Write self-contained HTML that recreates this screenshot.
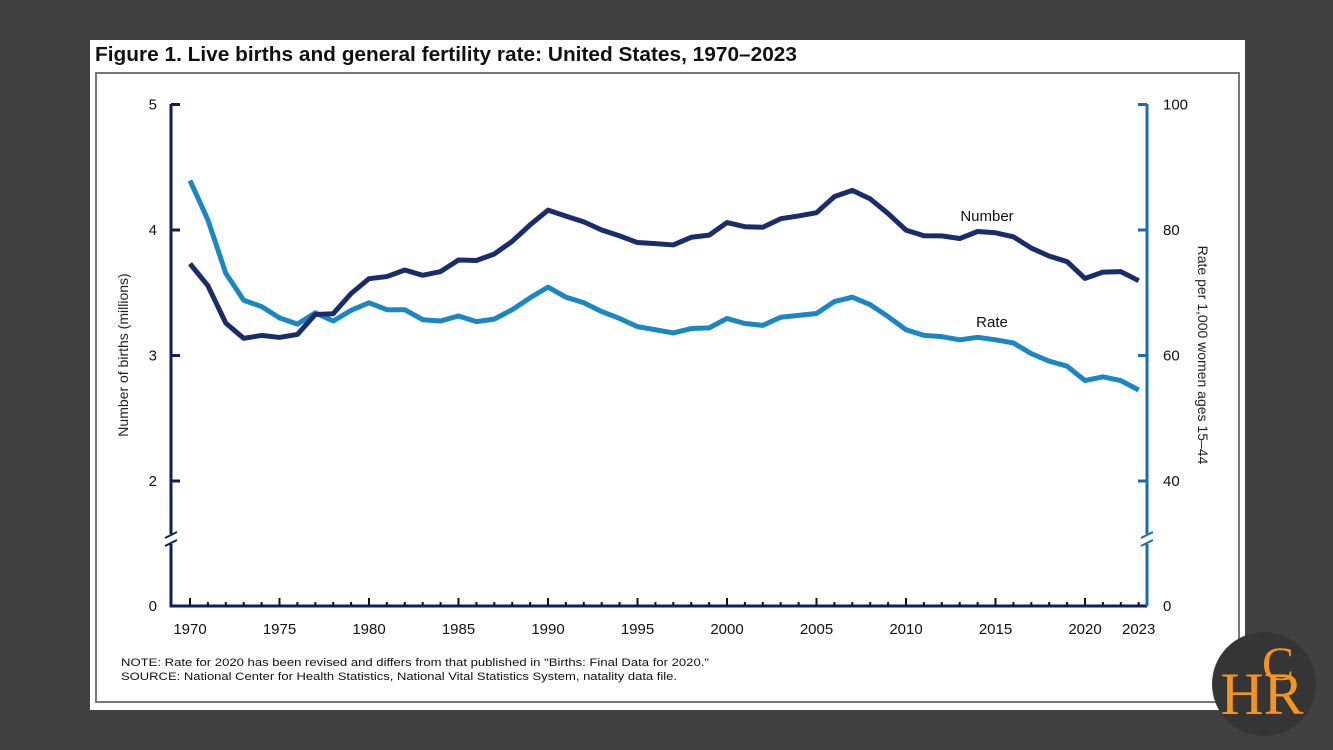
<!DOCTYPE html>
<html><head><meta charset="utf-8"><style>
html,body{margin:0;padding:0;background:#404040;width:1333px;height:750px;overflow:hidden}
svg{display:block}
text{font-family:"Liberation Sans",Arial,sans-serif}
text.serif{font-family:"Liberation Serif",serif}
</style></head><body>
<svg id="c" width="1333" height="750">
<rect x="0" y="0" width="1333" height="750" fill="#404040"/>
<rect x="90" y="40" width="1155" height="670" fill="#ffffff"/>
<rect x="96" y="73" width="1143" height="629" fill="none" stroke="#777" stroke-width="2"/>
<text x="95" y="61" font-size="20" font-weight="bold" fill="#111" textLength="702" lengthAdjust="spacingAndGlyphs">Figure 1. Live births and general fertility rate: United States, 1970–2023</text>
<g id="axes"></g>
<g id="series"></g>
<text x="128" y="355" font-size="14" fill="#222" text-anchor="middle" transform="rotate(-90 128 355)">Number of births (millions)</text>
<text x="1198" y="355" font-size="14" fill="#222" text-anchor="middle" transform="rotate(90 1198 355)">Rate per 1,000 women ages 15–44</text>
<text x="987" y="221" font-size="15" fill="#111" text-anchor="middle">Number</text>
<text x="992" y="327" font-size="15" fill="#111" text-anchor="middle">Rate</text>
<text x="121" y="666" font-size="11" fill="#111" textLength="588" lengthAdjust="spacingAndGlyphs">NOTE: Rate for 2020 has been revised and differs from that published in "Births: Final Data for 2020."</text>
<text x="121" y="680" font-size="11" fill="#111" textLength="556" lengthAdjust="spacingAndGlyphs">SOURCE: National Center for Health Statistics, National Vital Statistics System, natality data file.</text>
<g>
<circle cx="1264" cy="684" r="52" fill="#353535"/>
<text class="serif" x="1262" y="714" font-size="60" fill="#f7941d" text-anchor="middle">HR</text>
<text class="serif" x="1278" y="680" font-size="48" fill="#f7941d" text-anchor="middle">C</text>
</g>
</svg>
<script>
const years=[1970,1971,1972,1973,1974,1975,1976,1977,1978,1979,1980,1981,1982,1983,1984,1985,1986,1987,1988,1989,1990,1991,1992,1993,1994,1995,1996,1997,1998,1999,2000,2001,2002,2003,2004,2005,2006,2007,2008,2009,2010,2011,2012,2013,2014,2015,2016,2017,2018,2019,2020,2021,2022,2023];
const births=[3.731,3.556,3.258,3.137,3.160,3.144,3.168,3.327,3.333,3.494,3.612,3.629,3.681,3.639,3.669,3.761,3.757,3.809,3.910,4.041,4.158,4.111,4.065,4.000,3.953,3.900,3.891,3.881,3.942,3.959,4.059,4.026,4.022,4.090,4.112,4.138,4.266,4.316,4.248,4.131,3.999,3.954,3.953,3.932,3.988,3.978,3.946,3.856,3.792,3.748,3.614,3.664,3.668,3.596];
const rates=[87.9,81.6,73.1,68.8,67.8,66.0,65.0,66.8,65.5,67.2,68.4,67.3,67.3,65.7,65.5,66.3,65.4,65.8,67.3,69.2,70.9,69.3,68.4,67.0,65.9,64.6,64.1,63.6,64.3,64.4,65.9,65.1,64.8,66.1,66.4,66.7,68.6,69.3,68.1,66.2,64.1,63.2,63.0,62.5,62.9,62.5,62.0,60.3,59.1,58.3,56.0,56.6,56.0,54.5];
const leftTicks=[0,2,3,4,5];
const rightTicks=[0,40,60,80,100];
const xLabels=[1970,1975,1980,1985,1990,1995,2000,2005,2010,2015,2020,2023];
const NS='http://www.w3.org/2000/svg';
const x=y=>190+(y-1970)*17.9;
const yL=v=>v===0?606:481-(v-2)*125.5;
const yR=v=>v===0?606:481-(v-40)/20*125.5;
function mk(t,a,p){const e=document.createElementNS(NS,t);for(const k in a)e.setAttribute(k,a[k]);p.appendChild(e);return e;}
const ax=document.getElementById('axes'),se=document.getElementById('series');
let e=mk('path',{d:'M171 104 V606 H1147',stroke:'#0d1f5c','stroke-width':3,fill:'none'},ax);


e=mk('path',{d:'M1147 104 V606',stroke:'#1b6fa8','stroke-width':3,fill:'none'},ax);


leftTicks.forEach(v=>{
 const yy=yL(v);
 if(v>0)mk('line',{x1:171,x2:180,y1:yy,y2:yy,stroke:'#0d1f5c','stroke-width':3},ax);
 const t=mk('text',{x:157,y:yy+5,'font-size':15,'text-anchor':'end',fill:'#111'},ax);
 t.textContent=v;
 
 
});
rightTicks.forEach(v=>{
 const yy=yR(v);
 if(v>0)mk('line',{x1:1138,x2:1147,y1:yy,y2:yy,stroke:'#1b6fa8','stroke-width':3},ax);
 const t=mk('text',{x:1163,y:yy+5,'font-size':15,fill:'#111'},ax);
 t.textContent=v;
 
 
});
[[171,'#0d1f5c'],[1147,'#1b6fa8']].forEach(([cx,c])=>{
 mk('rect',{x:cx-6,y:534,width:12,height:10,fill:'#fff'},ax);
 mk('line',{x1:cx-6,y1:538,x2:cx+6,y2:532,stroke:c,'stroke-width':2},ax);
 mk('line',{x1:cx-6,y1:546,x2:cx+6,y2:540,stroke:c,'stroke-width':2},ax);
});
years.forEach(yr=>{
 const big=yr%5===0;
 mk('line',{x1:x(yr),x2:x(yr),y1:606,y2:big?598:602,stroke:'#111','stroke-width':2},ax);
});
xLabels.forEach(yr=>{
 const t=mk('text',{x:x(yr),y:634,'font-size':15,'text-anchor':'middle',fill:'#111'},ax);
 t.textContent=yr;
 
 
});
const pr=mk('polyline',{points:years.map((yr,i)=>x(yr)+','+yR(rates[i])).join(' '),fill:'none',stroke:'#1a87c2','stroke-width':5,'stroke-linejoin':'round'},se);


const pb=mk('polyline',{points:years.map((yr,i)=>x(yr)+','+yL(births[i])).join(' '),fill:'none',stroke:'#1b2c6b','stroke-width':5,'stroke-linejoin':'round'},se);


</script>
</body></html>
